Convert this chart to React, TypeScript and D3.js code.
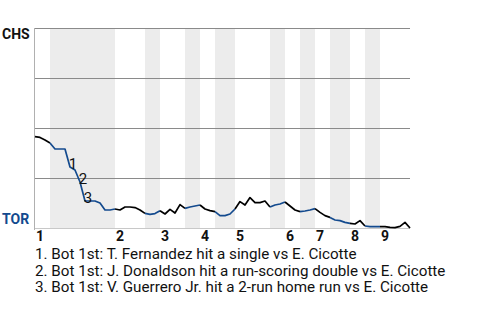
import React from "react";
import * as d3 from "d3";

const awayTeam = "CHS";
const homeTeam = "TOR";
const innings = ["1", "2", "3", "4", "5", "6", "7", "8", "9"];
// event index at which each half-inning starts (top 1, bot 1, top 2, ...)
const halfStarts = [0, 3, 16, 22, 25, 30, 33, 36, 40, 47, 50, 53, 56, 59, 63, 66, 69];
const lastEvent = 75;
// TOR win probability (%) after each event
const torWinPct = [
  54.3, 54.7, 56, 57.5, 60.5, 60.5, 60.5, 69.5, 71, 77,
  86.5, 86.5, 86.5, 87.5, 91, 91, 90.5, 91, 89.5, 89.5,
  89.8, 91, 92.7, 93.2, 92.8, 91.4, 93, 90.7, 92.5, 88.3,
  90.2, 89.5, 89, 88.5, 90.5, 91.3, 91.8, 93.8, 93.8, 93,
  90.5, 86.8, 88.5, 84.8, 87.3, 87.3, 86.5, 89.5, 88.5, 88,
  87, 89, 91, 91.8, 91.5, 91, 90.3, 92.2, 93.8, 94.7,
  96, 96.3, 97.2, 97.7, 98, 96.3, 99, 99.3, 99.3, 99.3,
  99.3, 99.7, 99.8, 99.2, 97.2, 100,
];
const gridPcts = [0, 25, 50, 75];
const markerEvents = [7, 9, 10];
const markerLabels = ["1", "2", "3"];
const annotations = [
  "1. Bot 1st: T. Fernandez hit a single vs E. Cicotte",
  "2. Bot 1st: J. Donaldson hit a run-scoring double vs E. Cicotte",
  "3. Bot 1st: V. Guerrero Jr. hit a 2-run home run vs E. Cicotte",
];

const BLUE = "#134A8E";
const FONT = "Roboto, 'Noto Sans', sans-serif";

export default function App() {
  const W = 480, H = 320;
  const x = d3.scaleLinear().domain([0, lastEvent]).range([35, 410]);
  const y = d3.scaleLinear().domain([0, 100]).range([28, 228]);
  const line = d3.line<number>().x((i) => x(i)).y((i) => y(torWinPct[i]));

  const halves = halfStarts.map((s, k) => ({
    start: s,
    end: k + 1 < halfStarts.length ? halfStarts[k + 1] : lastEvent,
    bottom: k % 2 === 1,
  }));

  return (
    <svg width={W} height={H} style={{ position: "absolute", left: 0, top: 0, fontFamily: FONT }}>
      <rect width={W} height={H} fill="#fff" />
      {halves.filter((h) => h.bottom).map((h, k) => (
        <rect key={k} x={x(h.start)} y={y(0)} width={x(h.end) - x(h.start)} height={y(100) - y(0)} fill="#ececec" />
      ))}
      {gridPcts.map((p) => (
        <line key={p} x1={x(0)} x2={x(lastEvent)} y1={Math.round(y(p)) + 0.5} y2={Math.round(y(p)) + 0.5} stroke="#8a8a8a" strokeWidth={1} />
      ))}
      <line x1={x(0)} x2={x(lastEvent)} y1={228.5} y2={228.5} stroke="#c8c8c8" strokeWidth={1} />
      <line x1={34.5} x2={34.5} y1={28} y2={230} stroke="#b0b0b0" strokeWidth={1} />
      {halves.map((h, k) => (
        <path key={k} d={line(d3.range(h.start, h.end + 1)) || ""} fill="none" stroke={h.bottom ? BLUE : "#000"} strokeWidth={1.7} strokeLinejoin="round" />
      ))}
      {markerEvents.map((e, k) => (
        <text key={k} x={x(e) + 3} y={y(torWinPct[e]) + 2} textAnchor="middle" fontSize={15} fill="#111">
          {markerLabels[k]}
        </text>
      ))}
      <text x={2} y={39} fontSize={14} fontWeight="bold" fill="#111">{awayTeam}</text>
      <text x={2} y={224} fontSize={14} fontWeight="bold" fill={BLUE}>{homeTeam}</text>
      {innings.map((lab, k) => (
        <text key={lab} x={x(halfStarts[k * 2]) + 1} y={241} fontSize={14} fontWeight="bold" fill="#111">{lab}</text>
      ))}
      {annotations.map((t, k) => (
        <text key={k} x={35} y={259 + k * 16.7} fontSize={15.2} fill="#111">{t}</text>
      ))}
    </svg>
  );
}
